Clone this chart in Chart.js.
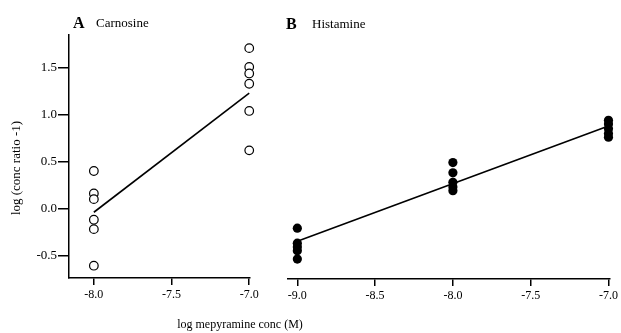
<!DOCTYPE html>
<html>
<head>
<meta charset="utf-8">
<script src="https://cdn.jsdelivr.net/npm/chart.js@4/dist/chart.umd.min.js"></script>
<style>
  html, body { margin: 0; padding: 0; background: #ffffff; }
  #wrap { position: relative; width: 621px; height: 333px; overflow: hidden; background: #fff; }
  canvas { position: absolute; left: 0; top: 0; }
</style>
</head>
<body>
<div id="wrap">
  <canvas id="chartA" width="621" height="333"></canvas>
  <canvas id="chartB" width="621" height="333"></canvas>
</div>
<script>
// ---- Data ----
// Panel A: Carnosine, log (conc ratio - 1) at log mepyramine conc
const carnosineDoses = [-8.0, -7.0];
const carnosineAtMinus8 = [0.40, 0.16, 0.10, -0.12, -0.22, -0.61];
const carnosineAtMinus7 = [1.71, 1.51, 1.44, 1.33, 1.04, 0.62];
const carnosineFit = [-0.04, 1.23];          // regression line at the two doses

// Panel B: Histamine
const histamineDoses = [-9.0, -8.0, -7.0];
const histamineAtMinus9 = [-0.21, -0.37, -0.41, -0.45, -0.54];
const histamineAtMinus8 = [0.49, 0.38, 0.28, 0.23, 0.19];
const histamineAtMinus7 = [0.94, 0.90, 0.85, 0.80, 0.76];
const histamineFit = [-0.35, 0.88];          // regression line at -9.0 and -7.0
const histamineFitDoses = [-9.0, -7.0];

// Tick labels
const xTicksA = [-8.0, -7.5, -7.0];
const xTicksB = [-9.0, -8.5, -8.0, -7.5, -7.0];
const yTicks = [-0.5, 0.0, 0.5, 1.0, 1.5];

// Texts
const yTitle = 'log (conc ratio -1)';
const xTitle = 'log mepyramine conc (M)';
const panelA = ['A', 'Carnosine'];
const panelB = ['B', 'Histamine'];

// ---- helpers ----
const toPts = (x, ys) => ys.map(y => ({ x: x, y: y }));
const FONT = '"Liberation Serif", "Times New Roman", serif';

const textPlugin = (items) => ({
  id: 'panelText',
  afterDraw(chart) {
    const ctx = chart.ctx;
    ctx.save();
    ctx.fillStyle = '#000';
    items.forEach(it => {
      ctx.save();
      ctx.font = it.font;
      ctx.textAlign = it.align || 'left';
      ctx.textBaseline = 'middle';
      ctx.translate(it.x, it.y);
      if (it.rot) ctx.rotate(it.rot);
      ctx.fillText(it.text, 0, 0);
      ctx.restore();
    });
    ctx.restore();
  }
});

const xTickFont = { family: FONT, size: 12 };
const yTickFont = { family: FONT, size: 13 };

// ---- Chart A ----
const pointsA = [
  ...toPts(carnosineDoses[0], carnosineAtMinus8),
  ...toPts(carnosineDoses[1], carnosineAtMinus7)
];
const fitA = carnosineDoses.map((x, i) => ({ x: x, y: carnosineFit[i] }));

new Chart(document.getElementById('chartA'), {
  type: 'scatter',
  data: {
    datasets: [
      {
        type: 'line', data: fitA, borderColor: '#000', borderWidth: 1.6,
        pointRadius: 0, fill: false, clip: false, order: 2
      },
      {
        data: pointsA, pointStyle: 'circle', pointRadius: 4.3,
        backgroundColor: '#fff', borderColor: '#000', borderWidth: 1.2,
        clip: false, order: 1
      }
    ]
  },
  options: {
    responsive: false, animation: false, devicePixelRatio: 1,
    layout: { padding: { left: 0, right: 371, top: 35, bottom: 0 } },
    plugins: { legend: { display: false }, tooltip: { enabled: false } },
    scales: {
      x: {
        type: 'linear', min: -8.16, max: -6.995,
        afterBuildTicks: s => { s.ticks = xTicksA.map(v => ({ value: v })); },
        afterFit: s => { s.height = 55; },
        grid: { drawOnChartArea: false, drawTicks: true, tickLength: 7, color: '#000', lineWidth: 1.5 },
        border: { display: true, color: '#000', width: 1.5 },
        ticks: { color: '#000', font: xTickFont, padding: 3, maxRotation: 0,
                 callback: v => Number(v).toFixed(1) }
      },
      y: {
        type: 'linear', min: -0.741, max: 1.85,
        afterBuildTicks: s => { s.ticks = yTicks.map(v => ({ value: v })); },
        afterFit: s => { s.width = 69; },
        grid: { drawOnChartArea: false, drawTicks: true, tickLength: 11, color: '#000', lineWidth: 1.5 },
        border: { display: true, color: '#000', width: 1.5 },
        ticks: { color: '#000', font: yTickFont, padding: 1,
                 callback: v => Number(v).toFixed(1) }
      }
    }
  },
  plugins: [textPlugin([
    { text: panelA[0], x: 73, y: 24, font: 'bold 16px ' + FONT },
    { text: panelA[1], x: 96, y: 24, font: '13px ' + FONT },
    { text: yTitle, x: 17, y: 168, rot: -Math.PI / 2, align: 'center', font: '13px ' + FONT },
    { text: xTitle, x: 240, y: 325, align: 'center', font: '12px ' + FONT }
  ])]
});

// ---- Chart B ----
const pointsB = [
  ...toPts(histamineDoses[0], histamineAtMinus9),
  ...toPts(histamineDoses[1], histamineAtMinus8),
  ...toPts(histamineDoses[2], histamineAtMinus7)
];
const fitB = histamineFitDoses.map((x, i) => ({ x: x, y: histamineFit[i] }));

new Chart(document.getElementById('chartB'), {
  type: 'scatter',
  data: {
    datasets: [
      {
        type: 'line', data: fitB, borderColor: '#000', borderWidth: 1.6,
        pointRadius: 0, fill: false, clip: false, order: 2
      },
      {
        data: pointsB, pointStyle: 'circle', pointRadius: 4.6,
        backgroundColor: '#000', borderColor: '#000', borderWidth: 0,
        clip: false, order: 1
      }
    ]
  },
  options: {
    responsive: false, animation: false, devicePixelRatio: 1,
    layout: { padding: { left: 288, right: 10, top: 35, bottom: 0 } },
    plugins: { legend: { display: false }, tooltip: { enabled: false } },
    scales: {
      x: {
        type: 'linear', min: -9.06, max: -6.994,
        afterBuildTicks: s => { s.ticks = xTicksB.map(v => ({ value: v })); },
        afterFit: s => { s.height = 54; },
        grid: { drawOnChartArea: false, drawTicks: true, tickLength: 7, color: '#000', lineWidth: 1.5 },
        border: { display: true, color: '#000', width: 1.5 },
        ticks: { color: '#000', font: xTickFont, padding: 3, maxRotation: 0,
                 callback: v => Number(v).toFixed(1) }
      },
      y: {
        type: 'linear', min: -0.752, max: 1.85, display: false
      }
    }
  },
  plugins: [textPlugin([
    { text: panelB[0], x: 286, y: 25, font: 'bold 16px ' + FONT },
    { text: panelB[1], x: 312, y: 25, font: '13px ' + FONT }
  ])]
});
</script>
</body>
</html>
